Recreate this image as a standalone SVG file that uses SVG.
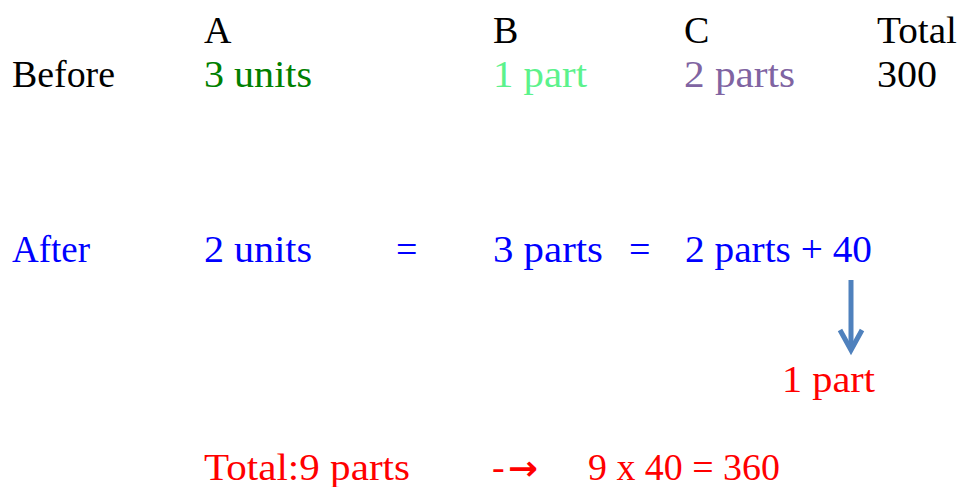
<svg xmlns="http://www.w3.org/2000/svg" width="962" height="487" viewBox="0 0 962 487">
<style>
text{font-family:"Liberation Serif","Times New Roman",serif;font-size:38px;}
.k{fill:#000000}.g{fill:#008000}.lg{fill:#5cf28c}.p{fill:#8064a2}.b{fill:#0000ff}.r{fill:#ff0000}
.arr{font-family:"DejaVu Sans",sans-serif;font-weight:bold;font-size:34px;}
</style>
<rect width="962" height="487" fill="#ffffff"/>
<g id="header">
<text class="k" x="204" y="43">A</text>
<text class="k" x="493" y="43">B</text>
<text class="k" x="684" y="43">C</text>
<text class="k" x="877" y="43" textLength="80" lengthAdjust="spacingAndGlyphs">Total</text>
</g>
<g id="before">
<text class="k" x="12" y="87" textLength="103" lengthAdjust="spacingAndGlyphs">Before</text>
<text class="g" x="204" y="87" textLength="108" lengthAdjust="spacingAndGlyphs">3 units</text>
<text class="lg" x="493" y="87" textLength="94" lengthAdjust="spacingAndGlyphs">1 part</text>
<text class="p" x="684" y="87" textLength="111" lengthAdjust="spacingAndGlyphs">2 parts</text>
<text class="k" x="877" y="87" textLength="60" lengthAdjust="spacingAndGlyphs">300</text>
</g>
<g id="after">
<text class="b" x="12" y="262" textLength="78" lengthAdjust="spacingAndGlyphs">After</text>
<text class="b" x="204" y="262" textLength="108" lengthAdjust="spacingAndGlyphs">2 units</text>
<text class="b" x="396" y="262">=</text>
<text class="b" x="493" y="262" textLength="110" lengthAdjust="spacingAndGlyphs">3 parts</text>
<text class="b" x="629" y="262">=</text>
<text class="b" x="685" y="262" textLength="187" lengthAdjust="spacingAndGlyphs">2 parts + 40</text>
</g>
<g id="onepart">
<text class="r" x="782" y="392" textLength="93" lengthAdjust="spacingAndGlyphs">1 part</text>
</g>
<g id="total">
<text class="r" x="204" y="480" textLength="206" lengthAdjust="spacingAndGlyphs">Total:9 parts</text>
<text class="r" x="492" y="480">-<tspan class="arr" x="508" textLength="30" lengthAdjust="spacingAndGlyphs">→</tspan></text>
<text class="r" x="588" y="480" textLength="192" lengthAdjust="spacingAndGlyphs">9 x 40 = 360</text>
</g>
<g id="connectors">
<line x1="851" y1="280" x2="851" y2="346" stroke="#4f81bd" stroke-width="5"/>
<path d="M840,330 L851,350 L862,330" fill="none" stroke="#4f81bd" stroke-width="5" stroke-linejoin="miter"/>
</g>
</svg>
